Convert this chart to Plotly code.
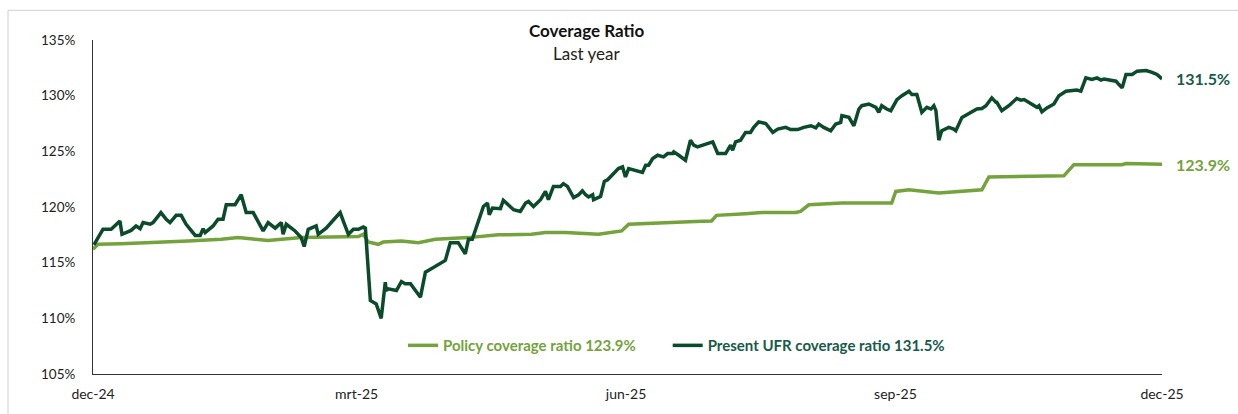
import pandas as pd
import plotly.graph_objects as go

START = "2024-12-01"

# Present UFR coverage ratio: day offset from 1 Dec 2024, value in %
ufr_days = [0.3, 3.4, 6.2, 7.9, 9.2, 9.9, 13.0, 14.7, 16.1, 17.1, 19.5, 20.5, 23.2, 25.0, 26.3, 28.4,
            30.1, 31.8, 34.9, 36.6, 37.6, 38.3, 41.0, 42.7, 44.4, 45.5, 48.5, 50.6, 52.3, 54.7, 56.4,
            58.1, 59.8, 62.2, 64.3, 64.9, 66.0, 69.0, 71.1, 72.1, 73.5, 76.2, 76.9, 79.6, 83.7, 84.4,
            85.5, 87.2, 88.9, 90.6, 92.3, 93.0, 94.7, 96.7, 98.4, 99.8, 100.1, 100.8, 103.6, 105.3,
            106.6, 108.4, 111.8, 113.5, 115.5, 118.6, 120.3, 122.0, 124.7, 127.1, 128.2, 129.5, 133.3,
            134.7, 135.3, 136.4, 139.1, 140.1, 141.8, 143.6, 145.9, 147.7, 148.7, 150.4, 152.8, 154.5,
            155.5, 157.2, 159.6, 160.6, 162.0, 164.1, 165.8, 167.1, 168.2, 169.2, 170.6, 170.9, 173.3,
            174.6, 175.7, 177.7, 179.4, 180.8, 181.8, 182.9, 184.6, 186.3, 187.6, 188.7, 189.7, 191.1,
            192.8, 194.8, 196.2, 197.9, 198.3, 200.0, 202.3, 204.0, 205.1, 206.4, 208.1, 209.8, 211.6,
            213.3, 216.0, 217.7, 218.4, 219.4, 221.1, 222.8, 224.5, 225.6, 227.3, 229.7, 232.1, 233.8,
            236.5, 238.2, 240.6, 242.7, 245.1, 246.8, 247.8, 249.5, 251.9, 253.6, 255.3, 255.7, 258.1,
            259.8, 261.5, 262.5, 264.9, 267.3, 268.3, 269.3, 271.0, 272.4, 274.1, 274.5, 276.2, 278.6,
            279.6, 281.3, 283.0, 284.7, 286.1, 287.1, 287.8, 288.8, 289.8, 292.2, 293.9, 294.6, 296.7,
            299.8, 301.8, 303.5, 304.9, 306.6, 306.9, 308.3, 308.6, 310.3, 312.7, 315.4, 316.8, 317.9,
            319.6, 322.3, 323.0, 324.0, 325.7, 328.1, 329.8, 332.2, 335.9, 337.3, 339.0, 341.1, 342.8,
            344.2, 345.2, 346.9, 349.3, 350.3, 351.4, 352.7, 354.8, 356.5, 359.6, 361.6, 363.3, 365.0]
ufr_vals = [116.6, 118.0, 118.0, 118.4, 118.75, 117.55, 117.9, 118.3, 118.05, 118.6, 118.45, 118.6, 119.5,
            118.9, 118.6, 119.25, 119.25, 118.45, 117.45, 117.45, 118.05, 117.7, 118.3, 118.9, 118.9,
            120.2, 120.2, 121.1, 119.5, 119.5, 118.6, 117.85, 118.6, 118.1, 118.6, 117.55, 118.45,
            117.85, 117.25, 116.45, 118.0, 118.3, 117.55, 118.1, 119.3, 119.5, 118.7, 117.55, 118.0,
            118.0, 118.2, 118.1, 111.6, 111.3, 110.0, 113.25, 112.5, 112.65, 112.5, 113.3, 113.1, 113.1,
            111.9, 114.15, 114.45, 114.9, 115.2, 116.8, 116.8, 115.8, 117.1, 117.1, 120.05, 120.35,
            119.3, 119.9, 119.85, 120.6, 120.2, 119.75, 119.6, 120.35, 120.5, 120.05, 120.65, 121.4,
            120.65, 121.85, 121.85, 122.1, 121.85, 120.85, 121.1, 121.45, 121.1, 120.9, 121.1, 120.65,
            120.95, 122.3, 122.45, 123.0, 123.45, 123.6, 122.7, 123.45, 123.3, 123.2, 123.1, 123.75,
            123.75, 124.35, 124.65, 124.5, 124.8, 124.8, 124.95, 124.65, 124.2, 126.0, 125.55, 125.4,
            125.55, 125.7, 125.85, 124.8, 124.8, 125.55, 125.1, 125.85, 126.0, 126.7, 126.7, 127.15,
            127.65, 127.5, 126.7, 127.0, 127.15, 126.95, 126.95, 127.15, 127.3, 127.1, 127.45, 127.15,
            126.85, 127.45, 127.6, 128.2, 128.05, 127.3, 128.8, 129.1, 129.25, 128.95, 128.5, 129.1,
            128.8, 128.65, 129.5, 129.65, 130.0, 130.4, 130.1, 130.1, 128.5, 128.95, 128.8, 129.1,
            128.65, 126.0, 126.85, 127.15, 127.0, 126.85, 128.05, 128.5, 128.8, 128.85, 129.1, 129.7,
            129.8, 129.4, 129.4, 128.65, 129.1, 129.75, 129.6, 129.65, 129.4, 128.95, 129.1, 128.55,
            128.9, 129.25, 130.0, 130.4, 130.5, 130.4, 131.6, 131.45, 131.6, 131.4, 131.5, 131.4, 131.3,
            131.0, 130.7, 131.9, 131.9, 132.2, 132.25, 132.1, 131.9, 131.5]

# Policy coverage ratio
pol_days = [0.0, 1.7, 9.6, 21.2, 32.5, 43.8, 49.6, 55.4, 59.8, 71.1, 82.7, 90.6, 92.3, 94.0, 97.4, 99.1,
            105.3, 111.1, 116.9, 122.0, 128.2, 138.4, 149.7, 154.5, 161.3, 172.6, 180.5, 182.9, 194.1,
            205.7, 211.2, 212.9, 222.8, 228.3, 239.9, 241.6, 244.4, 255.7, 267.3, 272.7, 274.1, 278.6,
            288.8, 295.6, 303.5, 305.9, 331.5, 334.9, 351.3, 352.7, 365.0]
pol_vals = [116.2, 116.65, 116.7, 116.8, 116.95, 117.1, 117.25, 117.1, 117.0, 117.25, 117.35, 117.35,
            117.55, 116.85, 116.65, 116.85, 116.95, 116.8, 117.1, 117.15, 117.25, 117.5, 117.55, 117.7,
            117.7, 117.55, 117.85, 118.45, 118.6, 118.7, 118.75, 119.25, 119.4, 119.5, 119.5, 119.6,
            120.2, 120.35, 120.35, 120.35, 121.4, 121.55, 121.25, 121.4, 121.55, 122.7, 122.8, 123.8,
            123.8, 123.9, 123.85]

tick_dates = ["2024-12-01", "2025-03-01", "2025-06-01", "2025-09-01", "2025-12-01"]
tick_labels = ["dec-24", "mrt-25", "jun-25", "sep-25", "dec-25"]
y_ticks = [105, 110, 115, 120, 125, 130, 135]

pol_name = "Policy coverage ratio 123.9%"
ufr_name = "Present UFR coverage ratio 131.5%"
pol_end = "123.9%"
ufr_end = "131.5%"

LIGHT = "#74A23C"
DARK = "#0B4A2A"
DARK_TXT = "#175A4A"

start = pd.Timestamp(START)
pol_x = start + pd.to_timedelta(pol_days, unit="D")
ufr_x = start + pd.to_timedelta(ufr_days, unit="D")

FONT = "Lato, Carlito, 'Open Sans', sans-serif"
PAD = "&nbsp;" * 7

fig = go.Figure()
fig.add_trace(go.Scatter(x=pol_x, y=pol_vals, mode="lines",
                         line=dict(color=LIGHT, width=3.5),
                         name=f"<b><span style='color:{LIGHT}'>{pol_name}</span></b>{PAD}"))
fig.add_trace(go.Scatter(x=ufr_x, y=ufr_vals, mode="lines",
                         line=dict(color=DARK, width=3.5),
                         name=f"<b><span style='color:{DARK_TXT}'>{ufr_name}</span></b>"))

fig.add_annotation(x=ufr_x[-1], y=ufr_vals[-1], text=f"<b>{ufr_end}</b>", showarrow=False,
                   xanchor="left", xshift=12, font=dict(color=DARK_TXT, size=16, family=FONT))
fig.add_annotation(x=pol_x[-1], y=pol_vals[-1], text=f"<b>{pol_end}</b>", showarrow=False,
                   xanchor="left", xshift=12, font=dict(color=LIGHT, size=16, family=FONT))

# title
fig.add_annotation(xref="paper", yref="paper", x=0.462, y=1.0, yshift=10, text="<b>Coverage Ratio</b>",
                   showarrow=False, font=dict(size=17, color="#111111", family=FONT), yanchor="middle")
fig.add_annotation(xref="paper", yref="paper", x=0.462, y=1.0, yshift=-13, text="Last year",
                   showarrow=False, font=dict(size=17, color="#222222", family=FONT), yanchor="middle")

# outer frame
fig.add_shape(type="rect", xref="paper", yref="paper",
              x0=-85/1069, x1=1.2, y0=-0.2, y1=1 + 30/338,
              line=dict(color="#D0D0D0", width=1), fillcolor="rgba(0,0,0,0)", layer="below")

fig.update_layout(
    width=1238, height=414,
    margin=dict(l=93, r=76, t=40, b=36),
    paper_bgcolor="white", plot_bgcolor="white",
    font=dict(family=FONT, size=13, color="#222222"),
    showlegend=True,
    legend=dict(orientation="h", x=0.29, y=0.085, xanchor="left", yanchor="middle",
                font=dict(size=15, family=FONT), bgcolor="rgba(0,0,0,0)"),
    xaxis=dict(type="date", range=[tick_dates[0], tick_dates[-1]], tickvals=tick_dates,
               ticktext=tick_labels, showgrid=False, zeroline=False, showline=True,
               linecolor="#333333", linewidth=1, ticks="", tickfont=dict(size=14),
               ticklabelstandoff=7),
    yaxis=dict(range=[105, 135], tickvals=y_ticks, ticktext=[f"{v}%" for v in y_ticks],
               showgrid=False, zeroline=False, showline=True, linecolor="#333333", linewidth=1,
               ticks="", tickfont=dict(size=13.5), ticklabelstandoff=14),
)

fig.write_html("out.html")
